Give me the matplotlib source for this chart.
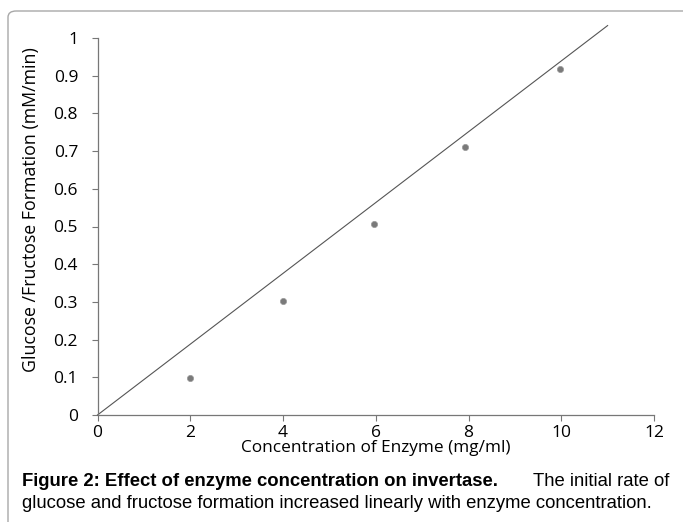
import matplotlib
matplotlib.use("Agg")
import matplotlib.pyplot as plt
from matplotlib.patches import FancyBboxPatch

# Data
conc = [2.0, 4.0, 5.97, 7.93, 9.97]
rate = [0.097, 0.303, 0.506, 0.711, 0.917]
fit_x = [0.0, 11.0]
fit_y = [0.0, 1.033]
xticks = [0, 2, 4, 6, 8, 10, 12]
yticks = [0, 0.1, 0.2, 0.3, 0.4, 0.5, 0.6, 0.7, 0.8, 0.9, 1]
ytick_labels = ["0", "0.1", "0.2", "0.3", "0.4", "0.5", "0.6", "0.7", "0.8", "0.9", "1"]
xlabel = "Concentration of Enzyme (mg/ml)"
ylabel = "Glucose /Fructose Formation (mM/min)"

W, H = 683, 522
fig = plt.figure(figsize=(W / 100, H / 100), dpi=100)

# frame
frame = FancyBboxPatch((8 / W, -20 / H), (W + 20 - 8) / W, (H + 20 - 11) / H,
                       boxstyle="round,pad=0,rounding_size=0.012",
                       transform=fig.transFigure, facecolor="none",
                       edgecolor="#a8a8a8", linewidth=1.0, zorder=-1)
fig.patches.append(frame)

ax = fig.add_axes([97.5 / W, 1 - 415 / H, (654 - 97.5) / W, (415 - 38) / H])
ax.set_facecolor("none")
ax.plot(fit_x, fit_y, color="#555555", linewidth=0.8, clip_on=False)
ax.scatter(conc, rate, s=20, marker="o", color="#7a7a7a", edgecolors="#9a9a9a",
           linewidths=0.5, zorder=3)

ax.set_xlim(0, 12)
ax.set_ylim(0, 1)
ax.set_xticks(xticks)
ax.set_yticks(yticks)
ax.set_yticklabels(ytick_labels)
for s in ["top", "right"]:
    ax.spines[s].set_visible(False)
for s in ["left", "bottom"]:
    ax.spines[s].set_color("#777777")
    ax.spines[s].set_linewidth(0.9)
ax.tick_params(axis="both", colors="#777777", length=4, width=0.8,
               labelcolor="black", labelsize=12.5)
for lab in ax.get_xticklabels() + ax.get_yticklabels():
    lab.set_family("Open Sans")
ax.tick_params(axis="x", pad=3)
ax.tick_params(axis="y", pad=10)

fig.text(376 / W, 1 - 448 / H, xlabel, ha="center", va="center",
         fontsize=12.4, family="Open Sans")
fig.text(31 / W, 1 - 210 / H, ylabel, ha="center", va="center",
         rotation=90, fontsize=12.8, family="Open Sans")

# caption
fs = 13.3
fig.text(22 / W, 1 - 481 / H, "Figure 2: Effect of enzyme concentration on invertase.",
         ha="left", va="center", fontsize=fs, fontweight="bold",
         family="Liberation Sans")
fig.text(669 / W, 1 - 481 / H, "The initial rate of",
         ha="right", va="center", fontsize=fs, family="Liberation Sans")
fig.text(22 / W, 1 - 503 / H,
         "glucose and fructose formation increased linearly with enzyme concentration.",
         ha="left", va="center", fontsize=fs, family="Liberation Sans")

fig.savefig("out.png", dpi=100)
